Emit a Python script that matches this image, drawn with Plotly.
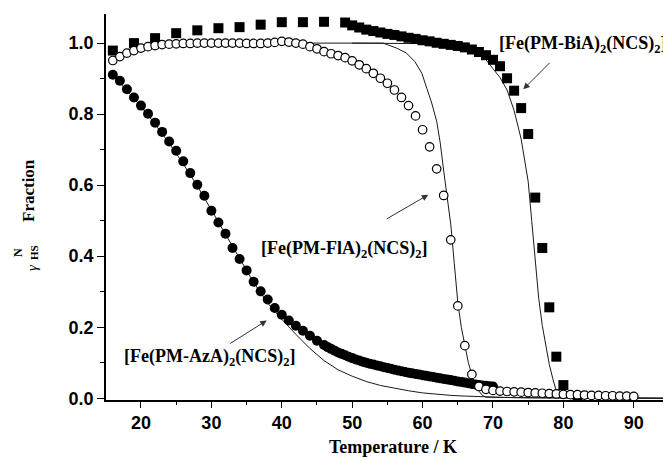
import plotly.graph_objects as go

# ---------------- data ----------------
# [Fe(PM-AzA)2(NCS)2]  (filled circles)
aza_T = [16, 17, 18, 19, 20, 21, 22, 23, 24, 25, 26, 27, 28, 29, 30, 31, 32, 33, 34, 35,
         36, 37, 38, 39, 40, 41, 42, 43, 44, 45, 46,
         46.5, 47, 47.5, 48, 48.5, 49, 49.5, 50, 50.5, 51, 51.5, 52, 52.5, 53, 53.5, 54,
         54.5, 55, 55.5, 56, 56.5, 57, 57.5, 58, 58.5, 59, 59.5, 60, 60.5, 61, 61.5, 62,
         62.5, 63, 63.5, 64, 64.5, 65, 65.5, 66, 66.5, 67, 67.5, 68, 68.5, 69, 69.5, 70]
aza_y = [0.911, 0.894, 0.870, 0.847, 0.824, 0.801, 0.776, 0.750, 0.723, 0.697, 0.667, 0.634,
         0.601, 0.570, 0.528, 0.495, 0.463, 0.423, 0.392, 0.360, 0.328, 0.301, 0.278, 0.254,
         0.235, 0.219, 0.204, 0.190, 0.176, 0.162, 0.150,
         0.144, 0.139, 0.134, 0.129, 0.125, 0.121, 0.117, 0.113, 0.109, 0.106, 0.103, 0.100,
         0.097, 0.095, 0.092, 0.090, 0.087, 0.085, 0.083, 0.080, 0.078, 0.076, 0.074, 0.072,
         0.070, 0.068, 0.067, 0.065, 0.063, 0.061, 0.060, 0.058, 0.056, 0.054, 0.053, 0.051,
         0.049, 0.047, 0.046, 0.044, 0.042, 0.040, 0.039, 0.037, 0.036, 0.035, 0.034, 0.033]

# [Fe(PM-FlA)2(NCS)2]  (open circles)
fla_T = [16, 17, 18, 19, 20, 21, 22, 23, 24, 25, 26, 27, 28, 29, 30, 31, 32, 33, 34, 35,
         36, 37, 38, 39, 40, 41, 42, 43, 44, 45, 46, 47, 48, 49, 50, 51, 52, 53, 54, 55,
         56, 57, 58, 59, 60, 61, 62, 63, 64, 65, 66, 67, 68, 69, 70, 71, 72, 73, 74, 75,
         76, 77, 78, 79, 80, 81, 82, 83, 84, 85, 86, 87, 88, 89, 90]
fla_y = [0.951, 0.962, 0.972, 0.979, 0.986, 0.990, 0.993, 0.996, 0.997, 0.998, 0.999, 0.999,
         1.000, 1.000, 1.000, 1.000, 1.000, 1.000, 1.000, 0.999, 0.999, 0.999, 1.000, 1.002,
         1.005, 1.003, 1.000, 0.997, 0.990, 0.984, 0.976, 0.970, 0.965, 0.959, 0.950, 0.939,
         0.928, 0.915, 0.901, 0.887, 0.868, 0.847, 0.824, 0.795, 0.756, 0.708, 0.646, 0.571,
         0.446, 0.260, 0.148, 0.067, 0.033, 0.025, 0.022, 0.020, 0.019, 0.018, 0.017, 0.016,
         0.015, 0.014, 0.013, 0.012, 0.011, 0.010, 0.010, 0.009, 0.008, 0.008, 0.007, 0.007,
         0.006, 0.006, 0.005]

# [Fe(PM-BiA)2(NCS)2]  (filled squares)
bia_T = [16, 19, 22, 25, 28, 31, 34, 37, 40, 43, 46, 49, 50, 51, 52, 53, 54, 55, 56, 57,
         58, 59, 60, 61, 62, 63, 64, 65, 66, 67, 68, 69, 70, 71, 72, 73, 74, 75, 76, 77,
         78, 79, 80, 82]
bia_y = [0.979, 1.000, 1.014, 1.028, 1.036, 1.042, 1.045, 1.052, 1.059, 1.059, 1.060, 1.058,
         1.050, 1.044, 1.038, 1.034, 1.030, 1.026, 1.023, 1.019, 1.015, 1.012, 1.008, 1.005,
         1.001, 0.998, 0.995, 0.992, 0.988, 0.982, 0.975, 0.966, 0.953, 0.935, 0.901, 0.866,
         0.817, 0.744, 0.565, 0.423, 0.256, 0.117, 0.037, -0.005]

# fitted curves (solid lines)
fit_aza_T = [16, 20, 22, 24, 26, 28, 30, 32, 34, 36, 38, 40, 42, 44, 46, 48, 50, 52, 54,
             56, 58, 60, 62, 64, 66, 68, 72, 80, 94.2]
fit_aza_y = [0.910, 0.822, 0.772, 0.718, 0.660, 0.598, 0.530, 0.462, 0.393, 0.326, 0.268,
             0.222, 0.180, 0.140, 0.106, 0.080, 0.062, 0.047, 0.036, 0.028, 0.021, 0.015,
             0.011, 0.008, 0.006, 0.004, 0.002, 0.001, 0.000]

fit_fla_T = [28, 40, 50, 54.4, 56.3, 57.7, 58.9, 59.9, 60.6, 61.3, 62.0, 62.5, 63.0, 63.5,
             64.0, 64.5, 65.0, 65.5, 66.0, 66.5, 67.0, 67.5, 68.0, 68.5, 69.0, 75, 94.2]
fit_fla_y = [1.000, 1.000, 1.000, 1.000, 0.986, 0.972, 0.948, 0.915, 0.873, 0.831, 0.780,
             0.720, 0.640, 0.570, 0.490, 0.380, 0.270, 0.200, 0.148, 0.100, 0.066, 0.040,
             0.020, 0.008, 0.003, 0.001, 0.000]

fit_bia_T = [50, 60, 64, 66, 67, 68, 69, 70, 71, 72, 73, 74, 75, 75.5, 76, 76.5, 77, 77.5,
             78, 78.5, 79, 79.5, 80, 94.2]
fit_bia_y = [1.000, 1.000, 0.998, 0.993, 0.985, 0.972, 0.953, 0.928, 0.903, 0.868, 0.810,
             0.730, 0.610, 0.500, 0.380, 0.280, 0.205, 0.150, 0.095, 0.055, 0.020, 0.006,
             0.002, 0.000]

x_ticks = [20, 30, 40, 50, 60, 70, 80, 90]
y_ticks = [0.0, 0.2, 0.4, 0.6, 0.8, 1.0]

labels = ["[Fe(PM-BiA)<sub>2</sub>(NCS)<sub>2</sub>]",
          "[Fe(PM-FlA)<sub>2</sub>(NCS)<sub>2</sub>]",
          "[Fe(PM-AzA)<sub>2</sub>(NCS)<sub>2</sub>]"]

# ---------------- layout constants ----------------
W, H = 663, 460
ML, MR, MT, MB = 106, 0, 14, 60
PW, PH = W - ML - MR, H - MT - MB


def px(xp):
    return (xp - ML) / PW


def py(yp):
    return (H - MB - yp) / PH


SERIF = "Liberation Serif"
SANS = "Liberation Sans"

fig = go.Figure()

line_style = dict(color="#1a1a1a", width=1)
for tx, ty in [(fit_aza_T, fit_aza_y), (fit_fla_T, fit_fla_y), (fit_bia_T, fit_bia_y)]:
    fig.add_trace(go.Scatter(x=tx, y=ty, mode="lines", line=line_style,
                             showlegend=False, hoverinfo="skip"))

fig.add_trace(go.Scatter(x=bia_T, y=bia_y, mode="markers", showlegend=False,
                         marker=dict(symbol="square", size=10, color="black",
                                     line=dict(width=0))))
fig.add_trace(go.Scatter(x=aza_T, y=aza_y, mode="markers", showlegend=False,
                         marker=dict(symbol="circle", size=10, color="black",
                                     line=dict(width=0))))
fig.add_trace(go.Scatter(x=fla_T, y=fla_y, mode="markers", showlegend=False,
                         marker=dict(symbol="circle", size=8.5, color="white",
                                     line=dict(width=1.2, color="black"))))

tickfont = dict(family=SANS, size=18, color="black", weight="bold")

fig.update_layout(
    width=W, height=H,
    margin=dict(l=ML, r=MR, t=MT, b=MB, pad=0),
    paper_bgcolor="white", plot_bgcolor="white",
    xaxis=dict(range=[15.03, 94.15], tickvals=x_ticks, ticks="outside", ticklen=6,
               tickwidth=1.3, tickcolor="black", showline=True, linecolor="black",
               linewidth=1.5, showgrid=False, zeroline=False, tickfont=tickfont,
               minor=dict(dtick=5, tick0=15, ticks="outside", ticklen=3, tickwidth=1.2,
                          tickcolor="black", showgrid=False),
               automargin=False),
    yaxis=dict(range=[-0.005, 1.082], tickvals=y_ticks, tickformat=".1f", ticks="outside",
               ticklen=7, tickwidth=1.3, tickcolor="black", showline=True,
               linecolor="black", linewidth=1.5, showgrid=False, zeroline=False,
               tickfont=tickfont,
               minor=dict(dtick=0.1, tick0=0, ticks="outside", ticklen=4, tickwidth=1.2,
                          tickcolor="black", showgrid=False),
               automargin=False),
)

ann = []
lab_font = dict(family=SERIF, size=18, color="black")
# compound labels
ann.append(dict(xref="paper", yref="paper", x=px(497), y=py(44), text="<b>" + labels[0] + "</b>",
                showarrow=False, xanchor="left", yanchor="middle", font=lab_font))
ann.append(dict(xref="paper", yref="paper", x=px(259), y=py(250), text="<b>" + labels[1] + "</b>",
                showarrow=False, xanchor="left", yanchor="middle", font=lab_font))
ann.append(dict(xref="paper", yref="paper", x=px(122), y=py(357), text="<b>" + labels[2] + "</b>",
                showarrow=False, xanchor="left", yanchor="middle", font=lab_font))

# arrows (head position in data coords, tail offset in pixels)
arrow = dict(showarrow=True, text="", arrowhead=2, arrowsize=1.3, arrowwidth=1,
             arrowcolor="#333333", standoff=0, axref="pixel", ayref="pixel")
ann.append(dict(x=74.30, y=0.870, ax=28, ay=-28, **arrow))
ann.append(dict(x=60.81, y=0.573, ax=-43, ay=25, **arrow))
ann.append(dict(x=37.86, y=0.219, ax=-38, ay=24, **arrow))

# axis titles
ann.append(dict(xref="paper", yref="paper", x=px(393), y=py(447), text="<b>Temperature / K</b>",
                showarrow=False, xanchor="center", yanchor="middle",
                font=dict(family=SERIF, size=18, color="black")))
ann.append(dict(xref="paper", yref="paper", x=px(28), y=py(191), text="<b>Fraction</b>",
                showarrow=False, xanchor="center", yanchor="middle", textangle=-90,
                font=dict(family=SERIF, size=17, color="black")))
ann.append(dict(xref="paper", yref="paper", x=px(18), y=py(253), text="<b>N</b>",
                showarrow=False, xanchor="center", yanchor="middle", textangle=-90,
                font=dict(family=SERIF, size=12, color="black")))
ann.append(dict(xref="paper", yref="paper", x=px(34), y=py(253), text="<b>HS</b>",
                showarrow=False, xanchor="center", yanchor="middle", textangle=-90,
                font=dict(family=SERIF, size=11, color="black")))
ann.append(dict(xref="paper", yref="paper", x=px(32), y=py(268), text="<i>γ</i>",
                showarrow=False, xanchor="center", yanchor="middle", textangle=-90,
                font=dict(family=SERIF, size=15, color="black")))

fig.update_layout(annotations=ann)

fig.write_html("out.html")
